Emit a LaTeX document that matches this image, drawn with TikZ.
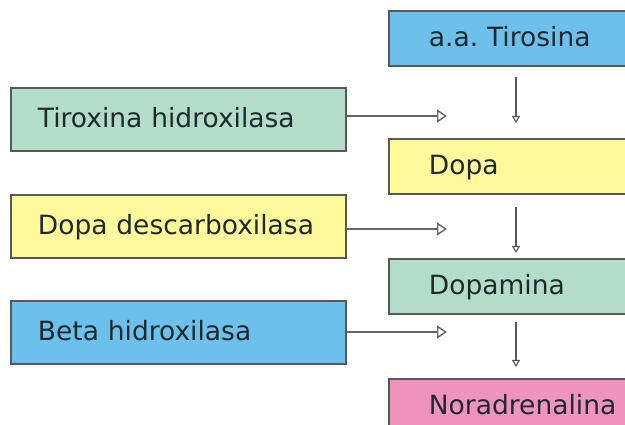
\documentclass[tikz,border=0pt]{standalone}
\usepackage{fontspec}
\setmainfont{DejaVu Sans}
\usetikzlibrary{arrows.meta,positioning}
\definecolor{azul}{HTML}{6DC0EC}
\definecolor{verde}{HTML}{B3DCC9}
\definecolor{amarillo}{HTML}{FFF99C}
\definecolor{rosa}{HTML}{EE94BA}
\definecolor{borde}{HTML}{55595A}
\definecolor{texto}{HTML}{1E2A2E}
\definecolor{linea}{HTML}{666666}

\begin{document}
\frenchspacing
\begin{tikzpicture}[x=1pt, y=-1pt,
	caja/.style={draw=borde, line width=1.8pt, anchor=north west, text=texto,
		font=\fontsize{26.5}{30}\selectfont, text height=19pt, text depth=3pt,
		align=left, inner ysep=0pt},
	enzima/.style={caja, text width=281pt, inner xsep=27pt, minimum height=63pt},
	molecula/.style={caja, text width=180pt, inner xsep=40pt, minimum height=55pt},
	enlace/.style={draw=linea, line width=1.4pt, -{Triangle[open, length=10pt, width=13pt]}},
	paso/.style={draw=borde, line width=1.1pt, -{Triangle[open, length=7pt, width=8pt]}}]
	\useasboundingbox (0,0) rectangle (625,425);
	\fill[white] (0,0) rectangle (625,425);
	\clip (0,0) rectangle (625,425);

	% ruta
	\node[molecula, fill=azul] (tir) at (388,10) {a.a. Tirosina};
	\node[molecula, fill=amarillo] (dopa) at (388,138) {Dopa};
	\node[molecula, fill=verde] (dopam) at (388,258) {Dopamina};
	\node[molecula, fill=rosa] (nora) at (388,378) {Noradrenalina};

	% enzimas
	\node[enzima, fill=verde] (tirox) at (10,87) {Tiroxina hidroxilasa};
	\node[enzima, fill=amarillo] (descarb) at (10,194) {Dopa descarboxilasa};
	\node[enzima, fill=azul] (beta) at (10,300) {Beta hidroxilasa};

	\coordinate (t1) at (447,116);
	\coordinate (t2) at (447,229);
	\coordinate (t3) at (447,332);
	\draw[enlace] (t1 -| tirox.east) -- (t1);
	\draw[enlace] (t2 -| descarb.east) -- (t2);
	\draw[enlace] (t3 -| beta.east) -- (t3);

	\foreach \a/\b/\s/\e in {tir/dopa/10/15, dopa/dopam/12/5, dopam/nora/7/11}
		\draw[paso, shorten <=\s pt, shorten >=\e pt] ([xshift=128pt]\a.south west) -- ([xshift=128pt]\b.north west);
\end{tikzpicture}
\end{document}
